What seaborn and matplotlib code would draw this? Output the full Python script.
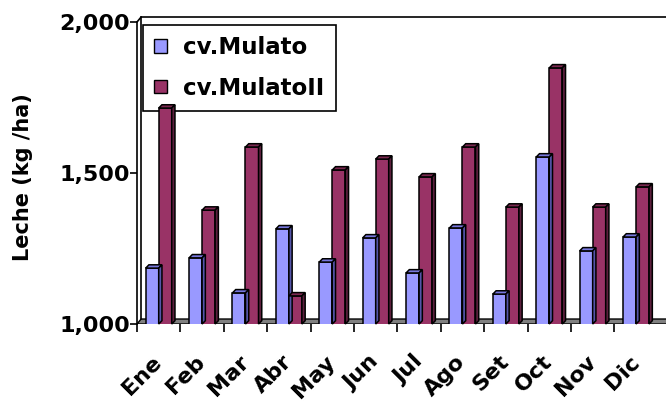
import pandas as pd
import seaborn as sns
import matplotlib.pyplot as plt
from matplotlib.patches import Polygon, Patch
from matplotlib.ticker import FuncFormatter

# datos
meses = ["Ene", "Feb", "Mar", "Abr", "May", "Jun", "Jul", "Ago", "Set", "Oct", "Nov", "Dic"]
mulato = [1185, 1219, 1103, 1315, 1205, 1285, 1169, 1318, 1099, 1553, 1242, 1288]
mulato2 = [1715, 1377, 1586, 1093, 1510, 1546, 1487, 1586, 1387, 1848, 1387, 1454]
series = ["cv.Mulato", "cv.MulatoII"]
colores = ["#9999FF", "#993366"]
lados = ["#5555AA", "#5C1F3D"]
techos = ["#7777DD", "#7A2850"]


def main():
    df = pd.DataFrame({
        "mes": meses * 2,
        "leche": mulato + mulato2,
        "cv": [series[0]] * 12 + [series[1]] * 12,
    })

    sns.set_style("white")
    plt.rcParams["font.family"] = ["DejaVu Sans"]
    plt.rcParams["font.weight"] = "bold"
    for k in ["text.color", "axes.labelcolor", "xtick.color", "ytick.color"]:
        plt.rcParams[k] = "black"

    fig = plt.figure(figsize=(6.66, 4.05), dpi=100)
    ax = fig.add_axes([137 / 666, 81 / 405, 529 / 666, 302 / 405])

    sns.barplot(data=df, x="mes", y="leche", hue="cv", palette=colores,
                width=0.6, edgecolor="black", linewidth=1.1, legend=False,
                saturation=1, ax=ax, zorder=3)

    x0, x1 = -0.5, 11.69
    ax.set_xlim(x0, x1)
    ax.set_ylim(1000, 2000)
    dx, dy = 0.095, 16.5   # profundidad de la pared
    bx, by = 0.075, 11     # profundidad de las barras

    # piso y pared
    piso = Polygon([(x0, 1000), (x1 + 1, 1000), (x1 + 1 + dx, 1000 + dy), (x0 + dx, 1000 + dy)],
                   closed=True, facecolor="#808080", edgecolor="black", lw=1, zorder=1)
    ax.add_patch(piso)
    kw = dict(color="black", lw=1.2, clip_on=False, zorder=2)
    ax.plot([x0 + dx, x1 + 1], [2000 + dy, 2000 + dy], **kw)
    ax.plot([x0 + dx, x0 + dx], [1000 + dy, 2000 + dy], **kw)
    ax.plot([x0, x0 + dx], [2000, 2000 + dy], **kw)

    # efecto 3D en las barras
    for i, cont in enumerate(ax.containers):
        for p in cont.patches:
            xl = p.get_x()
            w = p.get_width()
            top = p.get_y() + p.get_height()
            ax.add_patch(Polygon([(xl, top), (xl + w, top), (xl + w + bx, top + by), (xl + bx, top + by)],
                                 closed=True, facecolor=techos[i], edgecolor="black", lw=1.1,
                                 zorder=3, clip_on=False))
            ax.add_patch(Polygon([(xl + w, 1000), (xl + w, top), (xl + w + bx, top + by), (xl + w + bx, 1000 + by)],
                                 closed=True, facecolor=lados[i], edgecolor="black", lw=1.1,
                                 zorder=3, clip_on=False))

    for s in ["top", "right", "bottom"]:
        ax.spines[s].set_visible(False)
    ax.spines["left"].set_color("black")
    ax.spines["left"].set_linewidth(1.2)

    ax.set_yticks([1000, 1500, 2000])
    ax.yaxis.set_major_formatter(FuncFormatter(lambda v, p: f"{int(v):,}"))
    ax.tick_params(axis="y", left=True, length=5, width=1.2, pad=0, labelsize=16)

    ax.set_xticks(range(12))
    ax.set_xticklabels(meses, rotation=45, ha="right", rotation_mode="anchor", va="center")
    ax.set_xticks([k - 0.5 for k in range(12)], minor=True)
    ax.tick_params(axis="x", which="major", length=0, pad=25, labelsize=16)
    ax.tick_params(axis="x", which="minor", bottom=True, length=6, width=1.2, direction="out")

    ax.set_xlabel("")
    ax.set_ylabel("")
    fig.text(23 / 666, 1 - 177 / 405, "Leche (kg /ha)", rotation=90, ha="center", va="center",
             fontsize=15, fontweight="bold")

    handles = [Patch(facecolor=colores[k], edgecolor="black", label=series[k]) for k in range(2)]
    leg = ax.legend(handles=handles, loc="upper left", bbox_to_anchor=(143 / 666, 1 - 25 / 405),
                    bbox_transform=fig.transFigure, borderaxespad=0, fancybox=False, framealpha=1,
                    edgecolor="black", prop={"size": 16.5, "weight": "bold"}, handlelength=0.55,
                    handleheight=0.55, handletextpad=0.7, labelspacing=0.75, borderpad=0.5)
    leg.set_zorder(2.5)
    leg.get_frame().set_linewidth(1.2)

    fig.savefig("out.png", dpi=100)


if __name__ == "__main__":
    main()
